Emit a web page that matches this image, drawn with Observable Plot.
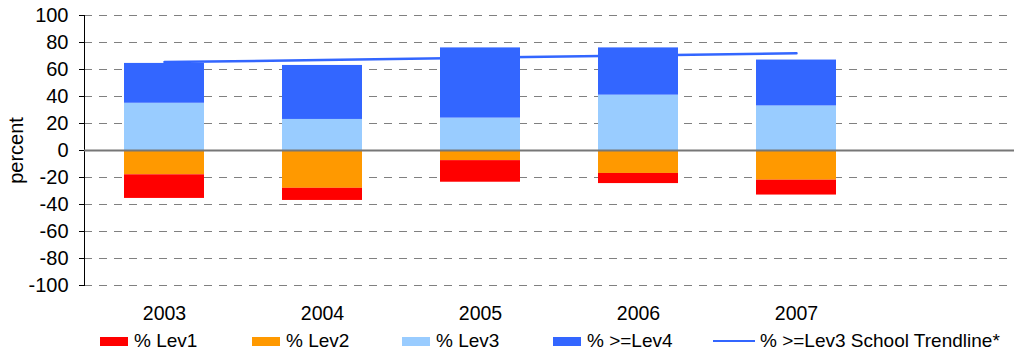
<!DOCTYPE html>
<html>
<head>
<meta charset="utf-8">
<script src="https://cdn.jsdelivr.net/npm/d3@7"></script>
<script src="https://cdn.jsdelivr.net/npm/@observablehq/plot@0.6"></script>
<style>
  html, body { margin: 0; padding: 0; background: #fff; }
  #wrap { width: 1020px; height: 356px; position: relative; font-family: "Liberation Sans", Arial, sans-serif; }
  #legend { position: relative; width: 1020px; height: 30px; font-size: 19px; color: #000; }
  .item { position: absolute; top: 0; height: 30px; display: flex; align-items: center; white-space: nowrap; }
  .sw { width: 28px; height: 9px; margin-right: 6px; }
  .ln { width: 42px; height: 2.5px; margin-right: 5px; }
</style>
</head>
<body>
<div id="wrap"><div id="chart"></div><div id="legend"></div></div>
<script>
const years = ["2003", "2004", "2005", "2006", "2007"];
const lev1 = [17.5, 9, 16, 7.5, 11];
const lev2 = [18, 28, 7.5, 17, 22];
const lev3 = [35, 23, 24, 41, 33];
const lev4 = [29.5, 40, 52, 35, 34];
const trend = [65.5, 67, 68.7, 70.4, 72];
const yTicks = [-100, -80, -60, -40, -20, 0, 20, 40, 60, 80, 100];
const seriesNames = ["% Lev1", "% Lev2", "% Lev3", "% >=Lev4"];
const seriesColors = ["#ff0000", "#ff9900", "#99ccff", "#3366ff"];
const trendName = "% >=Lev3 School Trendline*";
const trendColor = "#3366ff";

const rows = [];
years.forEach((yr, i) => {
  rows.push({year: yr, level: seriesNames[2], value: lev3[i]});
  rows.push({year: yr, level: seriesNames[3], value: lev4[i]});
  rows.push({year: yr, level: seriesNames[1], value: -lev2[i]});
  rows.push({year: yr, level: seriesNames[0], value: -lev1[i]});
});
const trendRows = years.map((yr, i) => ({year: yr, value: trend[i]}));

const chart = Plot.plot({
  width: 1020,
  height: 326,
  marginLeft: 84,
  marginRight: 6,
  marginTop: 15,
  marginBottom: 41,
  style: {fontFamily: "'Liberation Sans', Arial, sans-serif", fontSize: "19px", color: "#000", background: "#fff"},
  x: {domain: years, range: [84, 876], paddingInner: 0.495, paddingOuter: 0.2475, label: null},
  y: {domain: [-100, 100], label: null},
  color: {domain: seriesNames, range: seriesColors},
  marks: [
    Plot.gridY(yTicks, {stroke: "#808080", strokeOpacity: 1, strokeDasharray: "8,7"}),
    Plot.axisY(yTicks, {tickSize: 5, tickPadding: 11, tickFormat: d => String(d), label: "percent", labelAnchor: "center", labelArrow: "none", labelOffset: 76, fontSize: 20}),
    Plot.axisX({tickSize: 0, tickPadding: 21, label: null, fontSize: 19.5}),
    Plot.frame({anchor: "left", stroke: "#000"}),
    Plot.lineY(trendRows, {x: "year", y: "value", stroke: trendColor, strokeWidth: 2.5}),
    Plot.barY(rows, {x: "year", y: "value", fill: "level"}),
    Plot.ruleY([0], {stroke: "#777", strokeWidth: 2})
  ]
});
document.getElementById("chart").appendChild(chart);

const legend = document.getElementById("legend");
const lefts = [100, 252, 402, 553];
seriesNames.forEach((name, i) => {
  const it = document.createElement("div");
  it.className = "item";
  it.style.left = lefts[i] + "px";
  it.innerHTML = `<div class="sw" style="background:${seriesColors[i]}"></div><span>${name}</span>`;
  legend.appendChild(it);
});
const t = document.createElement("div");
t.className = "item";
t.style.left = "713px";
t.innerHTML = `<div class="ln" style="background:${trendColor}"></div><span>${trendName}</span>`;
legend.appendChild(t);
</script>
</body>
</html>
